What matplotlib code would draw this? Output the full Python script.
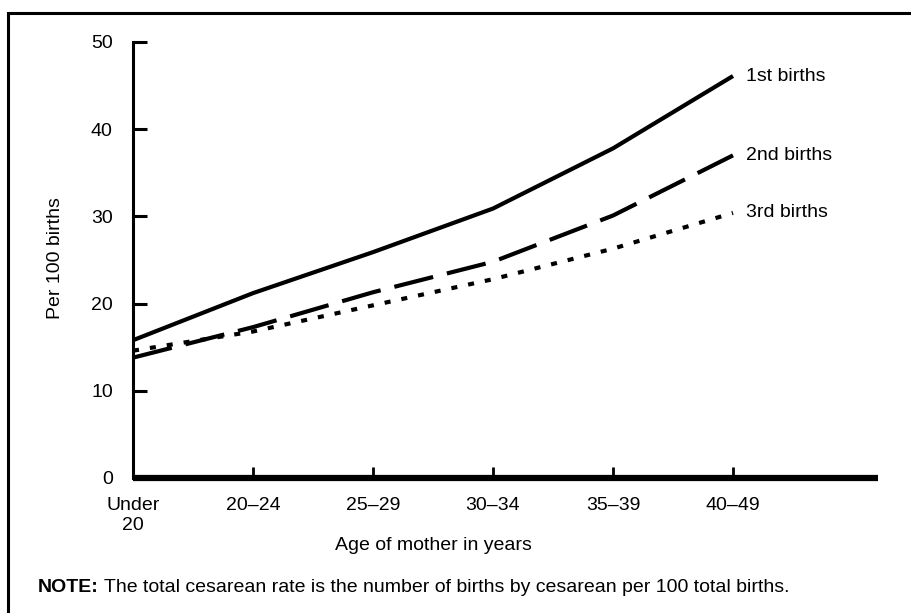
import matplotlib
matplotlib.use("Agg")
import matplotlib.pyplot as plt
from matplotlib.patches import Rectangle

plt.rcParams['font.family'] = ['Liberation Sans', 'DejaVu Sans']

categories = ["Under\n20", "20\u201324", "25\u201329", "30\u201334", "35\u201339", "40\u201349"]
first_births = [15.8, 21.2, 25.9, 30.9, 37.8, 46.1]
second_births = [13.8, 17.3, 21.3, 24.8, 30.1, 37.0]
third_births = [14.6, 16.8, 19.8, 22.8, 26.3, 30.4]
series_labels = ["1st births", "2nd births", "3rd births"]
y_ticks = [0, 10, 20, 30, 40, 50]

W, H = 912, 613
FS = 14
fig = plt.figure(figsize=(W / 100, H / 100), dpi=100)
ax = fig.add_axes([133 / W, 1 - 478 / H, (878 - 133) / W, (478 - 42) / H])

x = list(range(len(categories)))
ax.plot(x, first_births, color='black', lw=3.0, solid_capstyle='butt', solid_joinstyle='round')
ax.plot(x, second_births, color='black', lw=3.0, dashes=(9.6, 3.4), dash_capstyle='butt')
ax.plot(x, third_births, color='black', lw=3.0, dashes=(1.45, 2.65), dash_capstyle='butt')

for vals, lab in zip([first_births, second_births, third_births], series_labels):
    ax.text(x[-1] + 0.11, vals[-1], lab, fontsize=FS, va='center', ha='left')

ax.set_xlim(0, (878 - 133) / 120)
ax.set_ylim(0, 50)
ax.set_xticks(x)
ax.set_xticklabels(categories, fontsize=FS, linespacing=1.2)
ax.set_yticks(y_ticks)
ax.set_yticklabels([str(v) for v in y_ticks], fontsize=FS)
ax.tick_params(axis='x', direction='in', length=8, width=2, pad=14)
ax.tick_params(axis='y', direction='in', length=10, width=2.2, pad=14.5)
ax.yaxis.get_major_ticks()[0].tick1line.set_visible(False)
ax.xaxis.get_major_ticks()[0].tick1line.set_visible(False)

for s in ['top', 'right']:
    ax.spines[s].set_visible(False)
ax.spines['left'].set_linewidth(2.2)
ax.spines['bottom'].set_linewidth(4.5)
ax.spines['bottom'].set_capstyle('butt')

aw = 878 - 133
ah = 478 - 42
ax.set_xlabel("Age of mother in years", fontsize=FS)
ax.xaxis.label.set_va('center')
ax.xaxis.set_label_coords((433 - 133) / aw, -(545 - 478) / ah)
ax.set_ylabel("Per 100 births", fontsize=FS)
ax.yaxis.label.set_va('center')
ax.yaxis.set_label_coords(-(133 - 55) / aw, (478 - 258) / ah)

t1 = fig.text(38 / W, 1 - 587 / H, "NOTE:", fontsize=FS, fontweight='bold', va='center', ha='left')
fig.add_artist(plt.Annotation(" The total cesarean rate is the number of births by cesarean per 100 total births.",
                              xy=(1, 0.5), xycoords=t1, va='center', ha='left', fontsize=FS,
                              annotation_clip=False))

fig.add_artist(Rectangle((8 / W, -0.05), 1.2, 1 - 13 / H + 0.05, transform=fig.transFigure,
                         fill=False, lw=2.2, edgecolor='black'))

fig.savefig("out.png", dpi=100)
